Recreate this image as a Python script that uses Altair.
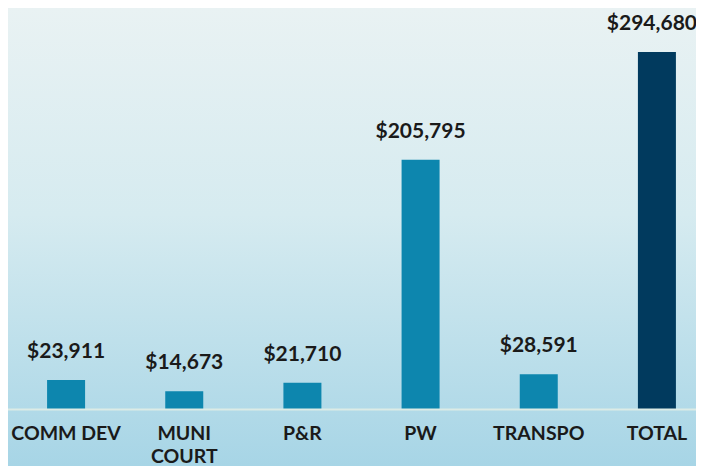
import altair as alt
import pandas as pd

categories = ["COMM DEV", "MUNI COURT", "P&R", "PW", "TRANSPO", "TOTAL"]
values = [23911, 14673, 21710, 205795, 28591, 294680]
kinds = ["dept", "dept", "dept", "dept", "dept", "total"]

df = pd.DataFrame({"cat": categories, "val": values, "kind": kinds})

W, H = 709, 401
FONT = "Lato"

xscale = alt.Scale(domain=categories, paddingInner=0, paddingOuter=0)
yscale = alt.Scale(domain=[0, 331000], nice=False, zero=True)

bg = alt.Chart(pd.DataFrame({"a": [0]})).mark_rect(
    color={
        "gradient": "linear",
        "x1": 0, "y1": 0, "x2": 0, "y2": 1,
        "stops": [
            {"offset": 0, "color": "#E9F2F3"},
            {"offset": 0.45, "color": "#D6EBF0"},
            {"offset": 1, "color": "#A7D5E6"},
        ],
    }
).encode(x=alt.value(-2), x2=alt.value(W), y=alt.value(0), y2=alt.value(458))

bars = alt.Chart(df).mark_bar(size=38).encode(
    x=alt.X("cat:N", scale=xscale, sort=categories,
            axis=alt.Axis(title=None, labelFont=FONT, labelFontSize=19.5, labelFontWeight="bold",
                          labelColor="#1A1A1A", labelAngle=0, ticks=False, labelPadding=15,
                          domainColor="#DCEBE6", domainWidth=2, labelLineHeight=23, zindex=1,
                          labelExpr="datum.label == 'MUNI COURT' ? ['MUNI', 'COURT'] : datum.label")),
    y=alt.Y("val:Q", scale=yscale, axis=None),
    color=alt.Color("kind:N", scale=alt.Scale(domain=["dept", "total"], range=["#0D86AE", "#013A5E"]), legend=None),
)

text_style = dict(font=FONT, fontSize=21, fontWeight="bold", color="#1A1A1A", baseline="alphabetic", dy=-22)

labels = alt.Chart(df).transform_filter("datum.kind == 'dept'").mark_text(**text_style).encode(
    x=alt.X("cat:N", scale=xscale, sort=categories),
    y=alt.Y("val:Q", scale=yscale),
    text=alt.Text("val:Q", format="$,.0f"),
)

total_label = alt.Chart(df).transform_filter("datum.kind == 'total'").mark_text(dx=-5, **text_style).encode(
    x=alt.X("cat:N", scale=xscale, sort=categories),
    y=alt.Y("val:Q", scale=yscale),
    text=alt.Text("val:Q", format="$,.0f"),
)

chart = alt.layer(bg, bars, labels, total_label).properties(
    width=W, height=H,
    autosize=alt.AutoSizeParams(type="none"),
    padding={"left": -1, "top": 0, "right": -20, "bottom": 57},
).configure_view(stroke=None).configure(background="#E9F2F3")

chart.save("out.html", embed_options={"renderer": "svg", "actions": False})
